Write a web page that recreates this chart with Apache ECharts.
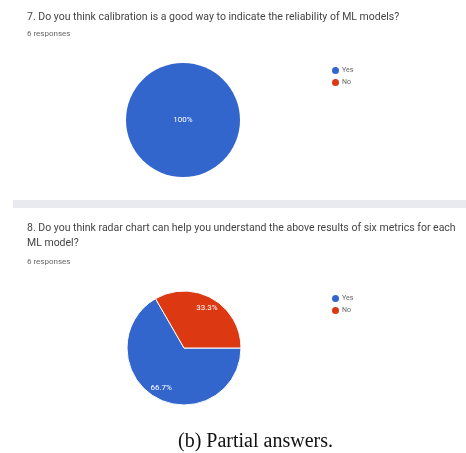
<!DOCTYPE html>
<html>
<head>
<meta charset="utf-8">
<script src="https://cdn.jsdelivr.net/npm/echarts@6/dist/echarts.min.js"></script>
<style>
  html, body { margin: 0; padding: 0; background: #ffffff; }
  #chart { width: 466px; height: 453px; }
</style>
</head>
<body>
<div id="chart"></div>
<script>
// Survey answers shown as two Google-Forms-style pies
const answerNames = ['Yes', 'No'];
const q7Counts = [6, 0];
const q8Counts = [4, 2];
const q7Title = '7. Do you think calibration is a good way to indicate the reliability of ML models?';
const q8Title = '8. Do you think radar chart can help you understand the above results of six metrics for each\nML model?';
const responsesText = '6 responses';
const captionText = '(b) Partial answers.';

const colors = ['#3366CC', '#DC3912'];

function toData(counts) {
  return answerNames.map((n, i) => ({ name: n, value: counts[i] }));
}

function pctLabel(counts) {
  const total = counts.reduce((a, b) => a + b, 0);
  return p => {
    if (!p.value) return '';
    return (p.value / total * 100).toFixed(1).replace(/\.0$/, '') + '%';
  };
}

const chart = echarts.init(document.getElementById('chart'), null, { renderer: 'canvas' });

const titleStyle = { fontFamily: 'Roboto', fontSize: 10.5, fontWeight: 'normal', color: '#444', lineHeight: 15 };
const subStyle = { fontFamily: 'Roboto', fontSize: 8, fontWeight: 'normal', color: '#666' };
const legendText = { fontFamily: 'Roboto', fontSize: 7, color: '#666', padding: [0, 0, 0, -2] };

const R = 57;

chart.setOption({
  animation: false,
  backgroundColor: '#ffffff',
  color: colors,
  title: [
    { text: q7Title, left: 27, top: 10, padding: 0, textStyle: titleStyle },
    { text: responsesText, left: 27, top: 30, padding: 0, textStyle: subStyle },
    { text: q8Title, left: 27, top: 221, padding: 0, textStyle: titleStyle },
    { text: responsesText, left: 27, top: 258, padding: 0, textStyle: subStyle },
    { text: captionText, left: 178, top: 432, padding: 0,
      textStyle: { fontFamily: 'Liberation Serif', fontSize: 20, fontWeight: 'normal', color: '#111' } }
  ],
  legend: [
    { orient: 'vertical', left: 327, top: 62, itemWidth: 7, itemHeight: 7, itemGap: 5,
      icon: 'circle', data: answerNames, selectedMode: false, textStyle: legendText },
    { orient: 'vertical', left: 327, top: 290, itemWidth: 7, itemHeight: 7, itemGap: 5,
      icon: 'circle', data: answerNames, selectedMode: false, textStyle: legendText }
  ],
  graphic: [
    { type: 'rect', shape: { x: 13, y: 200, width: 453, height: 8 }, style: { fill: '#e9e9f0' }, z: -1 }
  ],
  series: [
    {
      type: 'pie', center: [183, 120], radius: [0, R], startAngle: 0, clockwise: true,
      data: toData(q7Counts), silent: true,
      itemStyle: { borderColor: '#ffffff', borderWidth: 0 },
      label: { position: 'center', formatter: pctLabel(q7Counts), color: '#ffffff',
        fontFamily: 'Roboto', fontSize: 8 },
      labelLine: { show: false }
    },
    {
      type: 'pie', center: [184, 348], radius: [0, R], startAngle: 0, clockwise: true,
      data: toData(q8Counts), silent: true,
      itemStyle: { borderColor: '#ffffff', borderWidth: 1 },
      label: { show: false }, labelLine: { show: false }
    },
    {
      // transparent ring carrying the slice labels further out than the mid-radius
      type: 'pie', center: [184, 348], radius: [R * 0.5, R], startAngle: 0, clockwise: true,
      data: toData(q8Counts), silent: true,
      itemStyle: { color: 'rgba(0,0,0,0)' },
      label: { position: 'inside', formatter: pctLabel(q8Counts), color: '#ffffff',
        fontFamily: 'Roboto', fontSize: 8 },
      labelLine: { show: false }
    }
  ]
});
</script>
</body>
</html>
